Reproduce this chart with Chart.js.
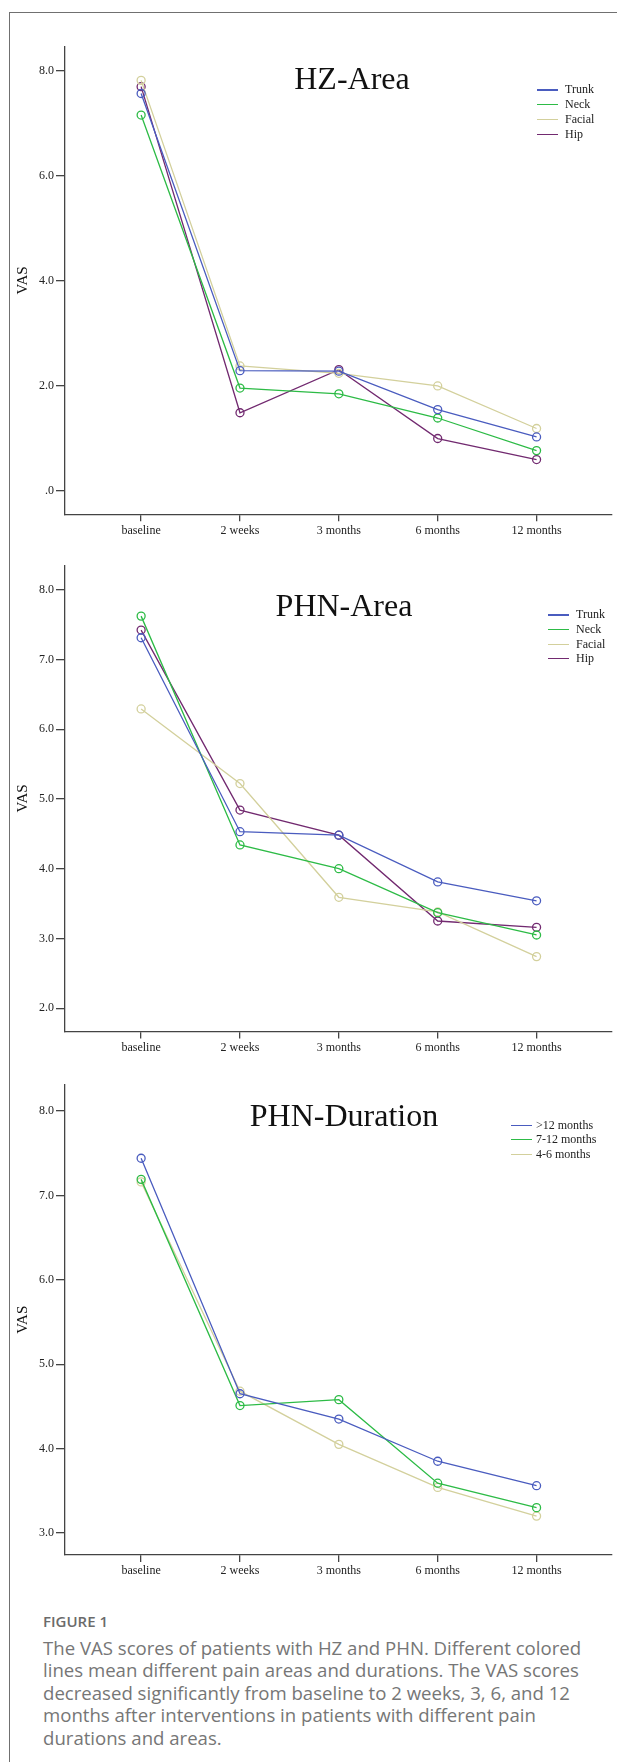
<!DOCTYPE html>
<html>
<head>
<meta charset="utf-8">
<script src="https://cdn.jsdelivr.net/npm/chart.js@4.4.0/dist/chart.umd.min.js"></script>
<style>
body { margin: 0; background: #fff; width: 617px; height: 1762px; position: relative; overflow: hidden; }
.frame { position: absolute; left: 9px; top: 12px; width: 700px; height: 1800px; border-left: 1.5px solid #707070; border-top: 1.5px solid #707070; }
canvas { position: absolute; left: 0; }
.title { position: absolute; font-family: 'Liberation Serif', serif; font-size: 32px; line-height: 32px; color: #111; white-space: nowrap; transform: translateX(-50%); }
.leg { position: absolute; font-family: 'Liberation Serif', serif; font-size: 12px; line-height: 14px; height: 14px; color: #222; white-space: nowrap; }
.leg span { position: absolute; left: 0; top: 7px; height: 1.3px; }
.fig { position: absolute; left: 43px; top: 1611px; font-family: 'Open Sans', sans-serif; font-weight: 600; font-size: 15px; line-height: 20px; color: #6b6b6b; }
.caption { position: absolute; left: 43px; top: 1637px; font-family: 'Open Sans', sans-serif; font-size: 18.6px; line-height: 22.4px; color: #767676; white-space: nowrap; }
</style>
</head>
<body>
<div class="frame"></div>
<canvas id="hz" width="617" height="555" style="top:0px"></canvas>
<canvas id="phn" width="617" height="520" style="top:555px"></canvas>
<canvas id="dur" width="617" height="520" style="top:1075px"></canvas>

<div class="title" style="left:352px; top:62px">HZ-Area</div>
<div class="title" style="left:344px; top:589px">PHN-Area</div>
<div class="title" style="left:344px; top:1099px">PHN-Duration</div>

<div class="fig">FIGURE 1</div>
<div class="caption">The VAS scores of patients with HZ and PHN. Different colored<br>lines mean different pain areas and durations. The VAS scores<br>decreased significantly from baseline to 2 weeks, 3, 6, and 12<br>months after interventions in patients with different pain<br>durations and areas.</div>

<script>
const timepoints = ['baseline', '2 weeks', '3 months', '6 months', '12 months'];

// HZ - area
const areaNames = ['Trunk', 'Neck', 'Facial', 'Hip'];
const hzTrunk = [7.56, 2.29, 2.28, 1.55, 1.03];
const hzNeck = [7.15, 1.96, 1.85, 1.39, 0.77];
const hzFacial = [7.81, 2.38, 2.24, 2.00, 1.19];
const hzHip = [7.69, 1.49, 2.31, 1.00, 0.60];
const hzTicks = [0, 2, 4, 6, 8];

// PHN - area
const phnTrunk = [7.31, 4.53, 4.48, 3.81, 3.54];
const phnNeck = [7.62, 4.34, 4.00, 3.37, 3.05];
const phnFacial = [6.29, 5.22, 3.59, 3.38, 2.74];
const phnHip = [7.42, 4.84, 4.48, 3.25, 3.16];
const phnTicks = [2, 3, 4, 5, 6, 7, 8];

// PHN - duration
const durNames = ['>12 months', '7-12 months', '4-6 months'];
const durOver12 = [7.44, 4.65, 4.35, 3.85, 3.56];
const dur7to12 = [7.19, 4.51, 4.58, 3.59, 3.30];
const dur4to6 = [7.16, 4.68, 4.05, 3.54, 3.20];
const durTicks = [3, 4, 5, 6, 7, 8];

const blue = '#4a5cbf';
const green = '#2dbb46';
const beige = '#d3d09c';
const purple = '#722a70';

function makeChart(id, series, colors, yTicks, yMin, yMax, padTop, xHeight) {
    const datasets = series.map((s, k) => ({
        data: s.map((v, i) => ({ x: i, y: v })),
        borderColor: colors[k],
        borderWidth: 1.3,
        pointRadius: 4,
        pointBorderWidth: 1.3,
        pointBackgroundColor: 'rgba(0,0,0,0)',
        pointBorderColor: colors[k],
        tension: 0,
        fill: false
    }));
    return new Chart(document.getElementById(id), {
        type: 'line',
        data: { datasets: datasets },
        options: {
            responsive: false,
            animation: false,
            devicePixelRatio: 1,
            layout: { padding: { top: padTop, right: 3, left: 0, bottom: 0 } },
            plugins: { legend: { display: false }, tooltip: { enabled: false } },
            scales: {
                x: {
                    type: 'linear',
                    min: -0.77,
                    max: 4.76,
                    afterBuildTicks: s => { s.ticks = timepoints.map((t, i) => ({ value: i })); },
                    afterFit: s => { s.height = xHeight; },
                    ticks: {
                        callback: v => timepoints[v],
                        autoSkip: false,
                        maxRotation: 0,
                        padding: 2,
                        color: '#222',
                        font: { family: 'Liberation Serif', size: 12 }
                    },
                    grid: { drawOnChartArea: false, tickLength: 7, color: '#444', lineWidth: 1.3 },
                    border: { color: '#444', width: 1.3 }
                },
                y: {
                    min: yMin,
                    max: yMax,
                    afterBuildTicks: s => { s.ticks = yTicks.map(v => ({ value: v })); },
                    afterFit: s => { s.width = 65; },
                    ticks: {
                        callback: v => v === 0 ? '.0' : v.toFixed(1),
                        padding: 2,
                        color: '#222',
                        font: { family: 'Liberation Serif', size: 12 }
                    },
                    grid: { drawOnChartArea: false, tickLength: 9, color: '#444', lineWidth: 1.3 },
                    border: { color: '#444', width: 1.3 },
                    title: {
                        display: true,
                        text: 'VAS',
                        color: '#111',
                        font: { family: 'Liberation Serif', size: 15 },
                        padding: { top: 14, bottom: 0 }
                    }
                }
            }
        }
    });
}

function makeLegend(left, top, step, gap, names, colors) {
    names.forEach((n, k) => {
        const d = document.createElement('div');
        d.className = 'leg';
        d.style.left = left + 'px';
        d.style.top = (top + k * step - 7) + 'px';
        d.style.paddingLeft = (21 + gap) + 'px';
        d.textContent = n;
        const line = document.createElement('span');
        line.style.width = '21px';
        line.style.background = colors[k];
        d.appendChild(line);
        document.body.appendChild(d);
    });
}

makeChart('hz', [hzTrunk, hzNeck, hzFacial, hzHip], [blue, green, beige, purple], hzTicks, -0.441, 8.456, 46.4, 40.7);
makeChart('phn', [phnTrunk, phnNeck, phnFacial, phnHip], [blue, green, beige, purple], phnTicks, 1.668, 8.347, 10.4, 43.6);
makeChart('dur', [durOver12, dur7to12, dur4to6], [blue, green, beige], durTicks, 2.739, 8.313, 9.6, 40);

makeLegend(537, 89.3, 14.8, 7, areaNames, [blue, green, beige, purple]);
makeLegend(548, 614.3, 14.6, 7, areaNames, [blue, green, beige, purple]);
makeLegend(511, 1124.5, 14.5, 4, durNames, [blue, green, beige]);
</script>
</body>
</html>
